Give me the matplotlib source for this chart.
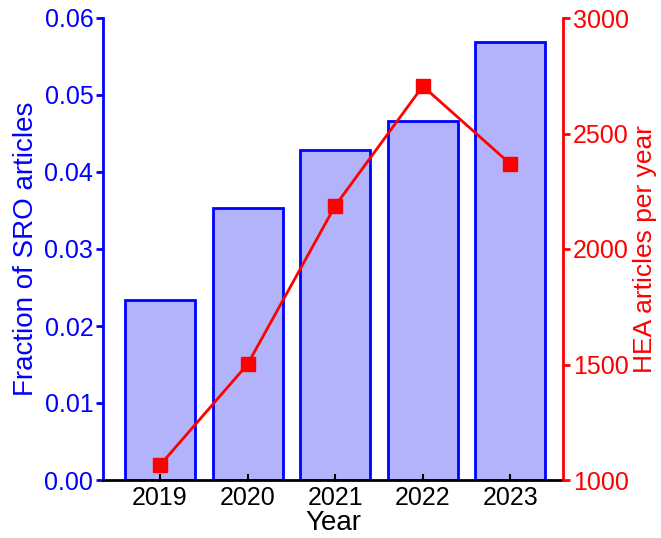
import matplotlib.pyplot as plt

plt.rcParams['font.family'] = ['Liberation Sans', 'DejaVu Sans']

years = [2019, 2020, 2021, 2022, 2023]
sro_fraction = [0.0234, 0.0353, 0.0429, 0.0466, 0.0569]
hea_articles = [1064, 1501, 2187, 2705, 2368]

fig = plt.figure(figsize=(6.61, 5.38), dpi=100)
ax = fig.add_axes([103 / 661, 1 - 480 / 538, 460 / 661, 462 / 538])

ax.bar(years, sro_fraction, width=0.8, color='#b3b3fb', edgecolor='#0000ff', linewidth=2)
ax.set_xlim(2018.35, 2023.6)
ax.set_ylim(0, 0.06)
ax.set_xticks(years)
ax.set_yticks([0, 0.01, 0.02, 0.03, 0.04, 0.05, 0.06])
ax.set_yticklabels(['0.00', '0.01', '0.02', '0.03', '0.04', '0.05', '0.06'])
ax.set_xlabel('Year', fontsize=20, labelpad=0)
ax.set_ylabel('Fraction of SRO articles', fontsize=20, color='#0000ff', labelpad=4)

ax.spines['top'].set_visible(False)
ax.spines['right'].set_visible(False)
ax.spines['left'].set_color('#0000ff')
ax.spines['left'].set_linewidth(2)
ax.spines['bottom'].set_color('black')
ax.spines['bottom'].set_linewidth(2)
ax.tick_params(axis='y', colors='#0000ff', labelsize=18, width=2, length=5, direction='out', pad=2)
ax.tick_params(axis='x', colors='black', labelsize=18, width=1.5, length=4, direction='in', pad=4)

ax2 = ax.twinx()
ax2.plot(years, hea_articles, color='#ff0000', linewidth=2, marker='s', markersize=10)
ax2.set_ylim(1000, 3000)
ax2.set_yticks([1000, 1500, 2000, 2500, 3000])
ax2.set_ylabel('HEA articles per year', fontsize=19, color='#ff0000', labelpad=3)
for s in ['top', 'left', 'bottom']:
    ax2.spines[s].set_visible(False)
ax2.spines['right'].set_color('#ff0000')
ax2.spines['right'].set_linewidth(2)
ax2.tick_params(axis='y', colors='#ff0000', labelsize=18, width=2, length=5, direction='out', pad=2)

fig.savefig('out.png', dpi=100)
